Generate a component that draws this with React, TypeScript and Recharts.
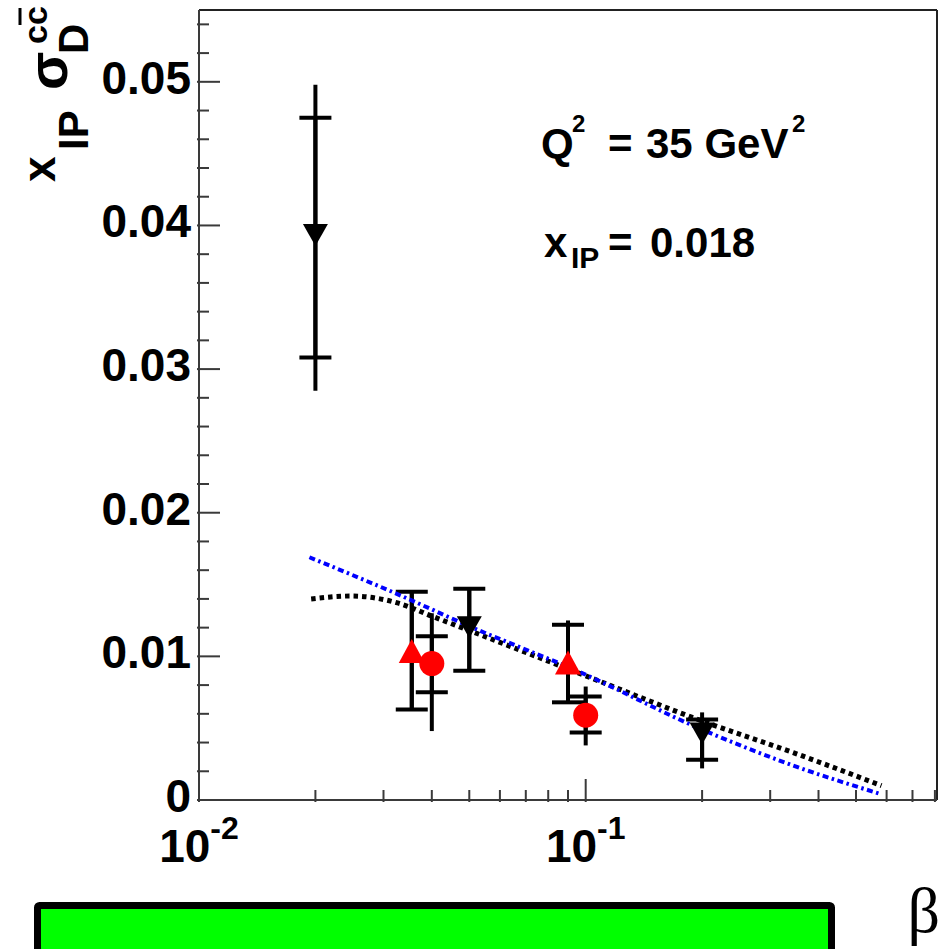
import React from 'react';
import { ComposedChart, Line, Scatter, XAxis, YAxis, ErrorBar, ReferenceLine } from 'recharts';

const FONT = '"Liberation Sans", Arial, Helvetica, sans-serif';
const SERIF = '"Liberation Serif", "Times New Roman", serif';

// black downward triangles
const blackBeta = [0.02, 0.05, 0.2];
const blackY = [0.0394, 0.0121, 0.0047];
const blackStat = [[0.0086, 0.0081], [0.0031, 0.0026], [0.0019, 0.0009]];
const blackTot = [[0.0109, 0.0104], [0.0031, 0.0026], [0.0025, 0.0014]];

// red upward triangles
const triBeta = [0.0355, 0.09];
const triY = [0.0103, 0.0095];
const triStat = [[0.004, 0.0042], [0.0027, 0.0027]];
const triTot = [[0.004, 0.0042], [0.0028, 0.003]];

// red circles
const circBeta = [0.04, 0.1];
const circY = [0.0095, 0.0059];
const circStat = [[0.002, 0.0019], [0.0012, 0.0013]];
const circTot = [[0.0047, 0.0035], [0.0021, 0.002]];

// black dotted curve
const dottedBeta = [0.0195, 0.0247, 0.0328, 0.04, 0.05, 0.0967, 0.2, 0.344, 0.582];
const dottedY = [0.014, 0.0142, 0.0137, 0.0128, 0.0118, 0.0088, 0.0055, 0.0033, 0.001];

// blue dash-dotted curve
const dashDotBeta = [0.0193, 0.0328, 0.05, 0.0967, 0.2, 0.344, 0.582];
const dashDotY = [0.0169, 0.0143, 0.0121, 0.0089, 0.0049, 0.0024, 0.0004];

const xTicks = [0.01, 0.02, 0.03, 0.04, 0.05, 0.06, 0.07, 0.08, 0.09, 0.1, 0.2, 0.3, 0.4, 0.5, 0.6, 0.7, 0.8];
const yTicks = Array.from({ length: 28 }, (_, i) => +(i * 0.002).toFixed(3));

const pts = (xs: number[], ys: number[], stat?: number[][], tot?: number[][]) =>
  xs.map((x, i) => ({ x, y: ys[i], stat: stat?.[i], tot: tot?.[i] }));

const AXIS = '#3a3a3a';

const XTick = (props: any) => {
  const { x, y, payload } = props;
  const lg = Math.log10(payload.value);
  const exp = Math.round(lg);
  const major = Math.abs(lg - exp) < 1e-6;
  return (
    <g>
      <line x1={x} x2={x} y1={y} y2={y - (major ? 23 : 12)} stroke={AXIS} strokeWidth={2} />
      {major && (
        <text x={x} y={y + 60} textAnchor="middle" fontFamily={FONT} fontWeight="bold" fontSize={46} fill="#000">
          10<tspan dy={-23} fontSize={32}>{exp}</tspan>
        </text>
      )}
    </g>
  );
};

const YTick = (props: any) => {
  const { x, y, payload } = props;
  const v = payload.value;
  const major = Math.abs(v * 100 - Math.round(v * 100)) < 1e-6;
  return (
    <g>
      <line x1={x} x2={x + (major ? 23 : 12)} y1={y} y2={y} stroke={AXIS} strokeWidth={2} />
      {major && (
        <text x={x - 6} y={y + 12} textAnchor="end" fontFamily={FONT} fontWeight="bold" fontSize={46} fill="#000">
          {v === 0 ? '0' : v.toFixed(2)}
        </text>
      )}
    </g>
  );
};

const DownTri = (p: any) => (
  <path d={`M${p.cx - 12.5},${p.cy - 10}L${p.cx + 12.5},${p.cy - 10}L${p.cx},${p.cy + 12}Z`} fill="#000" />
);
const UpTri = (p: any) => (
  <path d={`M${p.cx - 13},${p.cy + 11}L${p.cx + 13},${p.cy + 11}L${p.cx},${p.cy - 13}Z`} fill="#ff0000" />
);
const Dot = (p: any) => <circle cx={p.cx} cy={p.cy} r={12.5} fill="#ff0000" />;

const bars = [
  <ErrorBar key="t" dataKey="tot" direction="y" width={0} stroke="#000" strokeWidth={4} isAnimationActive={false} />,
  <ErrorBar key="s" dataKey="stat" direction="y" width={16} stroke="#000" strokeWidth={4} isAnimationActive={false} />,
];

export default function App() {
  return (
    <div style={{ position: 'absolute', left: 0, top: 0, width: 945, height: 949, background: '#fff', overflow: 'hidden' }}>
      <ComposedChart width={945} height={949} margin={{ top: 10, right: 8, bottom: 0, left: 0 }}>
        <XAxis
          dataKey="x"
          type="number"
          scale="log"
          domain={[0.01, 0.81]}
          allowDataOverflow
          ticks={xTicks}
          interval={0}
          tickSize={0}
          tickLine={false}
          tick={<XTick />}
          axisLine={{ stroke: AXIS, strokeWidth: 2 }}
          height={149}
        />
        <YAxis
          dataKey="y"
          type="number"
          domain={[0, 0.055]}
          allowDataOverflow
          ticks={yTicks}
          interval={0}
          tickSize={0}
          tickLine={false}
          tick={<YTick />}
          axisLine={{ stroke: AXIS, strokeWidth: 2 }}
          width={199}
        />
        <ReferenceLine y={0.055} stroke="#222" strokeWidth={2} />
        <ReferenceLine x={0.81} stroke="#222" strokeWidth={2} />
        <Scatter data={pts(blackBeta, blackY, blackStat, blackTot)} dataKey="y" shape={DownTri} isAnimationActive={false}>
          {bars}
        </Scatter>
        <Scatter data={pts(triBeta, triY, triStat, triTot)} dataKey="y" shape={UpTri} isAnimationActive={false}>
          {bars}
        </Scatter>
        <Scatter data={pts(circBeta, circY, circStat, circTot)} dataKey="y" shape={Dot} isAnimationActive={false}>
          {bars}
        </Scatter>
        <Line
          data={pts(dottedBeta, dottedY)}
          dataKey="y"
          type="monotone"
          stroke="#000"
          strokeWidth={5}
          strokeDasharray="4.5 4"
          dot={false}
          activeDot={false}
          isAnimationActive={false}
        />
        <Line
          data={pts(dashDotBeta, dashDotY)}
          dataKey="y"
          type="monotone"
          stroke="#0000ff"
          strokeWidth={4}
          strokeDasharray="6 3.5 2.5 3.5"
          dot={false}
          activeDot={false}
          isAnimationActive={false}
        />
      </ComposedChart>
      <svg width={945} height={949} style={{ position: 'absolute', left: 0, top: 0, pointerEvents: 'none' }}>
        <g transform="translate(55,182) rotate(-90)" fontFamily={FONT} fontWeight="bold" fill="#000">
          <text x={0} y={0} fontSize={46}>x</text>
          <text x={32} y={33} fontSize={42}>IP</text>
          <text x={92} y={12} fontSize={56}>σ</text>
          <text x={128} y={33} fontSize={42}>D</text>
          <text x={138} y={-8} fontSize={34}>cc</text>
          <line x1={157} x2={174} y1={-35} y2={-35} stroke="#000" strokeWidth={3} />
        </g>
        <g fontFamily={FONT} fontWeight="bold" fill="#000">
          <text x={541} y={158} fontSize={42}>Q</text>
          <text x={572} y={132} fontSize={24}>2</text>
          <text x={608} y={158} fontSize={42}>=</text>
          <text x={646} y={158} fontSize={42}>35 GeV</text>
          <text x={792} y={132} fontSize={24}>2</text>
          <text x={544} y={257} fontSize={42}>x</text>
          <text x={571} y={268} fontSize={30}>IP</text>
          <text x={608} y={257} fontSize={42}>=</text>
          <text x={650} y={257} fontSize={42}>0.018</text>
        </g>
        <rect x={37.5} y={905.5} width={794} height={80} rx={2} fill="#00ff00" stroke="#000" strokeWidth={7} />
        <text x={940} y={932} textAnchor="end" fontFamily={SERIF} fontSize={64} fill="#000">β</text>
      </svg>
    </div>
  );
}
